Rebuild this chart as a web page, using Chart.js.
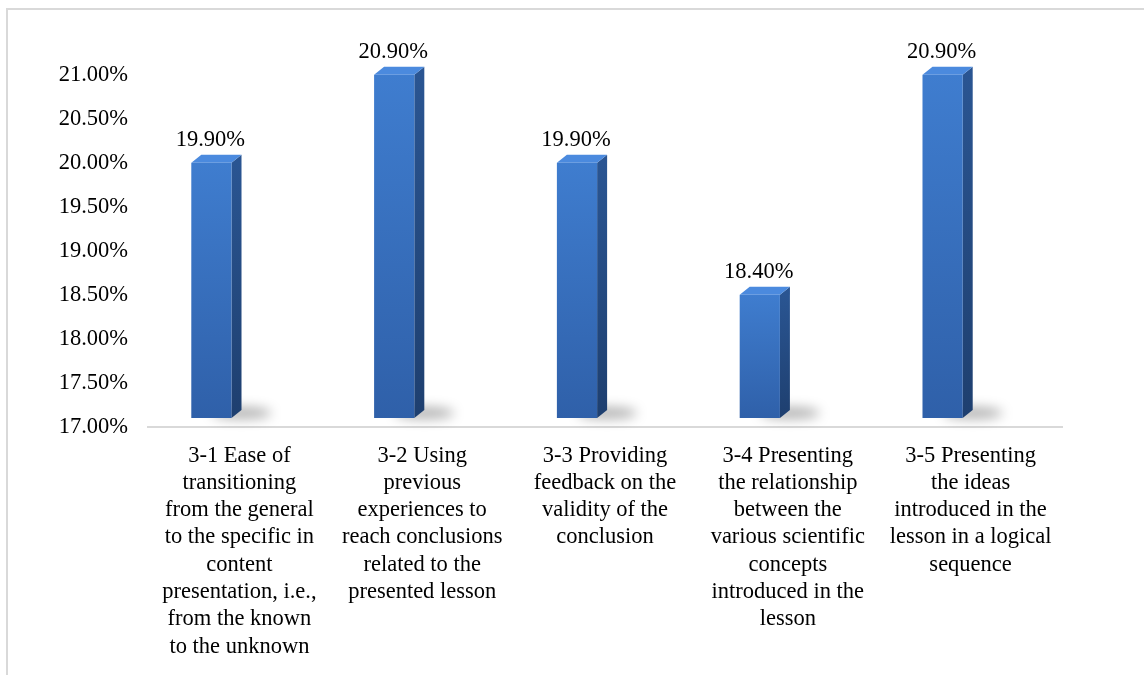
<!DOCTYPE html>
<html>
<head>
<meta charset="utf-8">
<script src="https://cdn.jsdelivr.net/npm/chart.js@4.4.1/dist/chart.umd.min.js"></script>
<style>
    html, body { margin: 0; padding: 0; background: #fff; overflow: hidden; }
    #frame { position: absolute; left: 6px; top: 8px; width: 1300px; height: 800px; border: 2px solid #d9d9d9; }
    #wrap { position: absolute; left: 0; top: 0; width: 1144px; height: 675px; }
</style>
</head>
<body>
<div id="frame"></div>
<div id="wrap"><canvas id="itemsChart"></canvas></div>
<script>
// ===== items 3-1 .. 3-5 : share of responses =====

const categories = [
    ['3-1 Ease of', 'transitioning', 'from the general', 'to the specific in', 'content', 'presentation, i.e.,', 'from the known', 'to the unknown'],
    ['3-2 Using', 'previous', 'experiences to', 'reach conclusions', 'related to the', 'presented lesson'],
    ['3-3 Providing', 'feedback on the', 'validity of the', 'conclusion'],
    ['3-4 Presenting', 'the relationship', 'between the', 'various scientific', 'concepts', 'introduced in the', 'lesson'],
    ['3-5 Presenting', 'the ideas', 'introduced in the', 'lesson in a logical', 'sequence']
];
const percentValues = [19.9, 20.9, 19.9, 18.4, 20.9];
const axisMin = 17;
const axisMax = 21;
const axisStep = 0.5;

const SERIF = '"Liberation Serif", "Times New Roman", serif';
const FONT_SIZE = 22.5;

// 3D column look: front face is pushed left/up, side and top faces give depth
const FRONT_DX = -28, FRONT_DY = -9;
const DEPTH_X = 10, DEPTH_Y = 8;

function columnBox(bar) {
    const p = bar.getProps(['x', 'y', 'base', 'width'], true);
    const left = p.x + FRONT_DX - p.width / 2;
    return { left: left, right: left + p.width, top: p.y + FRONT_DY, bottom: p.base + FRONT_DY, cx: p.x + FRONT_DX };
}

const columns3d = {
    id: 'columns3d',
    beforeDatasetsDraw(chart) {
        // soft floor shadow behind each column
        const ctx = chart.ctx;
        const meta = chart.getDatasetMeta(0);
        ctx.save();
        ctx.filter = 'blur(6px)';
        ctx.fillStyle = 'rgba(0,0,0,0.30)';
        meta.data.forEach(bar => {
            const b = columnBox(bar);
            ctx.beginPath();
            ctx.ellipse(b.right + 10, b.bottom - 5, 30, 6, 0, 0, Math.PI * 2);
            ctx.fill();
        });
        ctx.restore();
    },
    afterDatasetsDraw(chart) {
        const ctx = chart.ctx;
        const meta = chart.getDatasetMeta(0);
        ctx.save();
        meta.data.forEach((bar, i) => {
            const b = columnBox(bar);
            // side face
            const sideGrad = ctx.createLinearGradient(0, b.top, 0, b.bottom);
            sideGrad.addColorStop(0, '#2a5592');
            sideGrad.addColorStop(1, '#1e3f6f');
            ctx.fillStyle = sideGrad;
            ctx.beginPath();
            ctx.moveTo(b.right, b.top);
            ctx.lineTo(b.right + DEPTH_X, b.top - DEPTH_Y);
            ctx.lineTo(b.right + DEPTH_X, b.bottom - DEPTH_Y);
            ctx.lineTo(b.right, b.bottom);
            ctx.closePath();
            ctx.fill();
            // top face
            ctx.fillStyle = '#4b8ade';
            ctx.beginPath();
            ctx.moveTo(b.left, b.top);
            ctx.lineTo(b.left + DEPTH_X, b.top - DEPTH_Y);
            ctx.lineTo(b.right + DEPTH_X, b.top - DEPTH_Y);
            ctx.lineTo(b.right, b.top);
            ctx.closePath();
            ctx.fill();
            // front face
            const frontGrad = ctx.createLinearGradient(0, b.top, 0, b.bottom);
            frontGrad.addColorStop(0, '#3f7dcf');
            frontGrad.addColorStop(1, '#2f60a9');
            ctx.fillStyle = frontGrad;
            ctx.fillRect(b.left, b.top, b.right - b.left, b.bottom - b.top);
            // value label
            ctx.fillStyle = '#000';
            ctx.font = FONT_SIZE + 'px ' + SERIF;
            ctx.textAlign = 'center';
            ctx.textBaseline = 'alphabetic';
            ctx.fillText(percentValues[i].toFixed(2) + '%', b.cx - 1, b.top - DEPTH_Y - 9);
        });
        ctx.restore();
    }
};

const itemsChart = new Chart(document.getElementById('itemsChart'), {
    type: 'bar',
    data: {
        labels: categories,
        datasets: [{ data: percentValues, base: axisMin, backgroundColor: 'rgba(0,0,0,0)', barPercentage: 0.22, categoryPercentage: 1 }]
    },
    options: {
        responsive: true, maintainAspectRatio: false, animation: false,
        layout: { padding: { left: 0, right: 82, top: 75, bottom: 0 } },
        plugins: { legend: { display: false }, tooltip: { enabled: false } },
        scales: {
            x: {
                afterFit: scale => { scale.height = 248; },
                grid: { display: false, drawTicks: false },
                border: { display: true, color: '#d9d9d9', width: 2 },
                ticks: { padding: 15, maxRotation: 0, autoSkip: false, color: '#000', font: { family: SERIF, size: FONT_SIZE, lineHeight: 27.3 / FONT_SIZE } }
            },
            y: {
                min: axisMin, max: axisMax,
                afterFit: scale => { scale.width = 148; },
                grid: { display: false, drawTicks: false },
                border: { display: false },
                ticks: { stepSize: axisStep, padding: 20, color: '#000', font: { family: SERIF, size: FONT_SIZE }, callback: v => v.toFixed(2) + '%' }
            }
        }
    },
    plugins: [columns3d]
});
</script>
</body>
</html>
